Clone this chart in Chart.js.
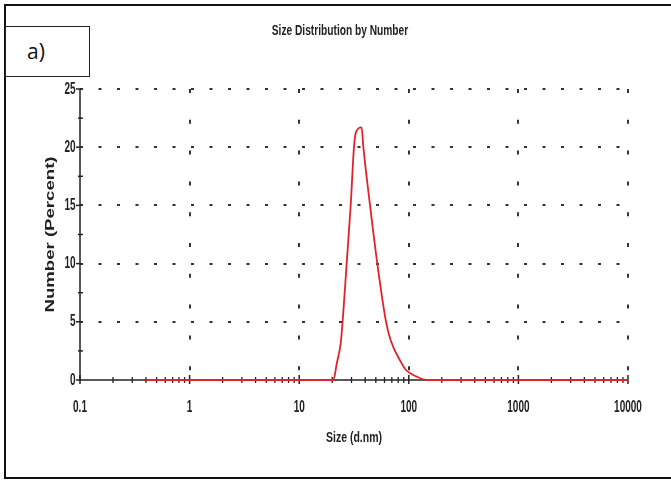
<!DOCTYPE html>
<html>
<head>
<meta charset="utf-8">
<script src="https://cdn.jsdelivr.net/npm/chart.js@4.4.1/dist/chart.umd.min.js"></script>
<style>
  html, body { margin: 0; padding: 0; background: #fff; overflow: hidden; }
  #wrap { position: relative; width: 671px; height: 480px; }
  #chart { position: absolute; left: 0; top: 0; }
  .frame { position: absolute; left: 4px; top: 4px; width: 700px; height: 471px; border: 2px solid #111; }
  .tag {
    position: absolute; left: 5px; top: 26px; width: 83px; height: 49px;
    border: 1.5px solid #222; background: #fff;
    font: 21px "Open Sans", "Liberation Sans", sans-serif; color: #111;
  }
  .tag span { position: absolute; left: 21px; top: 10px; }
</style>
</head>
<body>
<div id="wrap">
  <canvas id="chart" width="671" height="480"></canvas>
  <div class="frame"></div>
  <div class="tag"><span>a)</span></div>
</div>
<script>
/* ========== Data ========== */
const sizes = [0.4, 20.5, 22.0, 23.9, 24.9, 27.1, 29.5, 31.6, 33.0, 37.1, 38.5, 44.3, 51.6, 62.0, 68.4, 86.1, 94.2, 118, 146, 10000];
const numberPct = [0, 0, 1.4, 3.15, 5, 10, 15, 20, 21.3, 21.7, 20, 15, 10, 5, 3.4, 1.43, 0.86, 0.29, 0, 0];

const xTicks = [0.1, 1, 10, 100, 1000, 10000];
const xTickLabels = ['0.1', '1', '10', '100', '1000', '10000'];
const xMinorSteps = [2, 3, 4, 5, 6, 7, 8, 9];
const yTicks = [0, 5, 10, 15, 20, 25];
const yMinor = [2.5, 7.5, 12.5, 17.5, 22.5];

const titleText = 'Size Distribution by Number';
const xTitle = 'Size (d.nm)';
const yTitle = 'Number (Percent)';

const ink = '#222';
const FONT = '"Liberation Sans", Arial, sans-serif';

/* ========== Helpers ========== */
// the source image is stretched, so text is drawn scaled
function stretchText(ctx, text, x, y, opts) {
  ctx.save();
  ctx.translate(x, y);
  if (opts.rot) ctx.rotate(opts.rot);
  ctx.scale(opts.sx || 1, opts.sy || 1);
  ctx.font = opts.font;
  ctx.fillStyle = opts.color || ink;
  ctx.textAlign = opts.align || 'center';
  ctx.textBaseline = 'middle';
  ctx.fillText(text, 0, 0);
  ctx.restore();
}

function line(ctx, x1, y1, x2, y2, w) {
  ctx.beginPath();
  ctx.lineWidth = w;
  ctx.moveTo(x1, y1);
  ctx.lineTo(x2, y2);
  ctx.stroke();
}

/* ========== Axes + text plugin ========== */
const axesPlugin = {
  id: 'axesPlugin',
  beforeDatasetsDraw(chart) {
    const { ctx, chartArea: a, scales: { x, y } } = chart;
    ctx.save();
    ctx.strokeStyle = ink;
    line(ctx, a.left, a.top, a.left, a.bottom, 1.5);
    line(ctx, a.left, a.bottom, a.right, a.bottom, 1.5);

    yTicks.forEach(v => {
      const py = y.getPixelForValue(v);
      line(ctx, a.left - 4, py, a.left + 1, py, 1.5);
    });
    yMinor.forEach(v => {
      const py = y.getPixelForValue(v);
      line(ctx, a.left - 2, py, a.left + 3, py, 1.5);
    });

    xTicks.forEach((d, i) => {
      const px = x.getPixelForValue(d);
      line(ctx, px, a.bottom - 5, px, a.bottom + 4, 1.5);
      if (i === xTicks.length - 1) return;
      xMinorSteps.forEach(m => {
        const mx = x.getPixelForValue(d * m);
        line(ctx, mx, a.bottom - 3, mx, a.bottom + 3, 1.3);
      });
    });
    ctx.restore();
  },
  afterDraw(chart) {
    const { ctx, chartArea: a, scales: { x, y } } = chart;
    const tickFont = 'bold 10px ' + FONT;

    xTicks.forEach((v, i) => {
      stretchText(ctx, xTickLabels[i], x.getPixelForValue(v), a.bottom + 27, { font: tickFont, sy: 1.65 });
    });
    yTicks.forEach(v => {
      stretchText(ctx, String(v), a.left - 4.5, y.getPixelForValue(v), { font: tickFont, sy: 1.65, align: 'right' });
    });

    stretchText(ctx, titleText, 340, 31, { font: 'bold 10.2px ' + FONT, sy: 1.35 });
    stretchText(ctx, xTitle, (a.left + a.right) / 2, a.bottom + 58, { font: 'bold 10.5px ' + FONT, sy: 1.45 });
    stretchText(ctx, yTitle, 51, (a.top + a.bottom) / 2, { font: 'bold 12px ' + FONT, sx: 1.55, rot: -Math.PI / 2 });
  }
};

/* ========== Chart ========== */
new Chart(document.getElementById('chart'), {
  type: 'line',
  data: {
    datasets: [{
      data: sizes.map((s, i) => ({ x: s, y: numberPct[i] })),
      borderColor: '#e0232b',
      borderWidth: 1.8,
      pointRadius: 0,
      cubicInterpolationMode: 'monotone',
      fill: false,
      clip: false
    }]
  },
  options: {
    responsive: false,
    animation: false,
    events: [],
    layout: { padding: { left: 80, top: 89, right: 43, bottom: 100 } },
    plugins: { legend: { display: false }, title: { display: false }, tooltip: { enabled: false } },
    scales: {
      x: {
        type: 'logarithmic',
        min: 0.1,
        max: 10000,
        afterBuildTicks: s => { s.ticks = xTicks.map(v => ({ value: v })); },
        ticks: { display: false },
        grid: {
          drawTicks: false,
          lineWidth: 2,
          color: c => (c.index === 0 ? 'rgba(0,0,0,0)' : '#333')
        },
        border: { display: false, dash: [4, 26.8] }
      },
      y: {
        min: 0,
        max: 25,
        afterBuildTicks: s => { s.ticks = yTicks.map(v => ({ value: v })); },
        ticks: { display: false },
        grid: {
          drawTicks: false,
          lineWidth: 2,
          color: c => (c.tick && c.tick.value === 0 ? 'rgba(0,0,0,0)' : '#333')
        },
        border: { display: false, dash: [3, 15.5] }
      }
    }
  },
  plugins: [axesPlugin]
});
</script>
</body>
</html>
